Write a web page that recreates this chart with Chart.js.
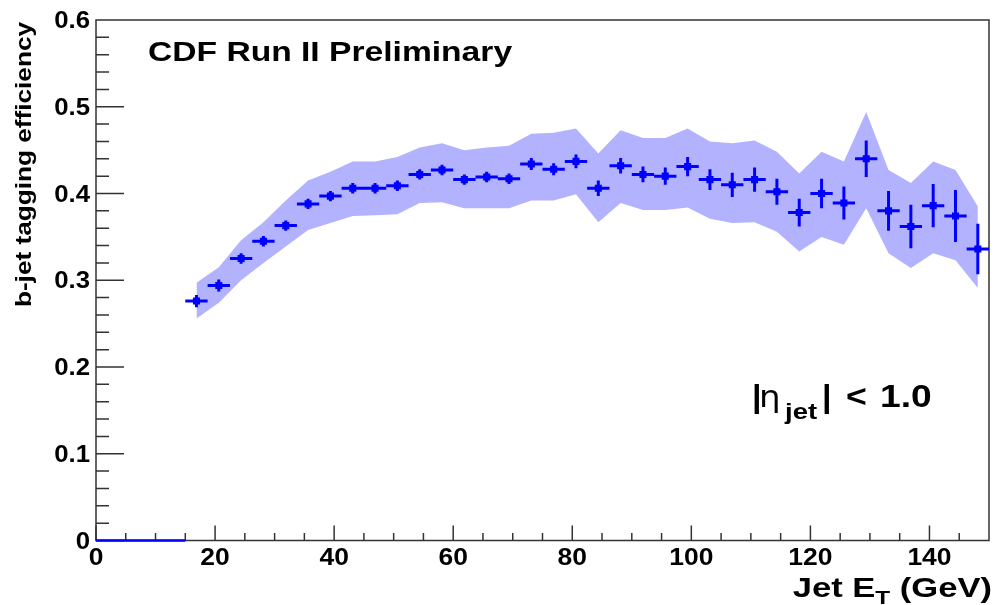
<!DOCTYPE html>
<html lang="en">
<head>
<meta charset="UTF-8">
<title>b-jet tagging efficiency vs Jet ET</title>
<script src="https://cdn.jsdelivr.net/npm/chart.js"></script>
<style>
    body { margin: 0; background: #fff; }
    #wrap { width: 994px; height: 605px; }
</style>
</head>
<body>
<div id="wrap"><canvas id="eff" width="994" height="605"></canvas></div>
<script>
// bin centres in GeV (bins are 3.75 GeV wide)
const etCenters = [16.875, 20.625, 24.375, 28.125, 31.875, 35.625, 39.375, 43.125, 46.875, 50.625,
                   54.375, 58.125, 61.875, 65.625, 69.375, 73.125, 76.875, 80.625, 84.375, 88.125,
                   91.875, 95.625, 99.375, 103.125, 106.875, 110.625, 114.375, 118.125, 121.875, 125.625,
                   129.375, 133.125, 136.875, 140.625, 144.375, 148.125];
const binHalf = 1.875;
const effValues = [0.276, 0.294, 0.325, 0.345, 0.363, 0.388, 0.397, 0.406, 0.406, 0.409,
                   0.422, 0.427, 0.416, 0.419, 0.417, 0.434, 0.428, 0.437, 0.406, 0.432,
                   0.422, 0.420, 0.431, 0.416, 0.410, 0.416, 0.402, 0.378, 0.400, 0.389,
                   0.440, 0.380, 0.362, 0.386, 0.374, 0.336];
const statErr = [0.007, 0.007, 0.006, 0.006, 0.006, 0.006, 0.006, 0.006, 0.006, 0.006,
                 0.006, 0.006, 0.006, 0.006, 0.006, 0.007, 0.007, 0.008, 0.009, 0.009,
                 0.009, 0.010, 0.011, 0.012, 0.014, 0.014, 0.015, 0.016, 0.017, 0.019,
                 0.021, 0.023, 0.025, 0.025, 0.030, 0.029];
// systematic band
const systHi = [0.297, 0.315, 0.346, 0.367, 0.392, 0.415, 0.425, 0.437, 0.437, 0.442,
                0.453, 0.458, 0.450, 0.453, 0.455, 0.469, 0.470, 0.475, 0.446, 0.473,
                0.464, 0.464, 0.475, 0.460, 0.458, 0.461, 0.448, 0.423, 0.448, 0.437,
                0.494, 0.427, 0.412, 0.437, 0.427, 0.385];
const systLo = [0.256, 0.274, 0.300, 0.320, 0.339, 0.358, 0.366, 0.374, 0.375, 0.376,
                0.389, 0.390, 0.383, 0.383, 0.383, 0.392, 0.392, 0.399, 0.367, 0.389,
                0.381, 0.381, 0.384, 0.371, 0.366, 0.367, 0.356, 0.333, 0.350, 0.341,
                0.383, 0.331, 0.314, 0.331, 0.323, 0.291];
// empty bins below 15 GeV
const emptyEt = [0, 15];
const emptyEff = [0, 0];

const xTicks = [0, 20, 40, 60, 80, 100, 120, 140];
const yTicks = [0, 0.1, 0.2, 0.3, 0.4, 0.5, 0.6];

const FONT = '"Liberation Sans", Arial, sans-serif';
const BLUE = '#0000ff';

function pts(xs, ys) {
    return xs.map((x, i) => ({ x: x, y: ys[i] }));
}

// draw text squeezed/stretched horizontally, like the ROOT output
function stretchText(ctx, text, x, y, font, sx, align) {
    ctx.save();
    ctx.font = font;
    ctx.textBaseline = 'alphabetic';
    ctx.textAlign = 'left';
    const w = ctx.measureText(text).width * sx;
    let left = x;
    if (align === 'right') left = x - w;
    else if (align === 'center') left = x - w / 2;
    ctx.translate(left, y);
    ctx.scale(sx, 1);
    ctx.fillText(text, 0, 0);
    ctx.restore();
    return w;
}

const rootStyle = {
    id: 'rootStyle',
    beforeDatasetsDraw(chart) {
        const ctx = chart.ctx, a = chart.chartArea;
        const xs = chart.scales.x, ys = chart.scales.y;
        ctx.save();
        ctx.strokeStyle = '#333';
        ctx.lineWidth = 1.5;
        ctx.strokeRect(a.left, a.top, a.right - a.left, a.bottom - a.top);
        ctx.beginPath();
        // x ticks: major every 20, minor every 5
        for (let k = 0; k < 30; k++) {
            const v = k * 5;
            const px = xs.getPixelForValue(v);
            const len = (v % 20 === 0) ? 15 : 7.5;
            ctx.moveTo(px, a.bottom);
            ctx.lineTo(px, a.bottom - len);
        }
        // y ticks: major every 0.1, minor every 0.02
        for (let k = 0; k < 30; k++) {
            const py = ys.getPixelForValue(k * 0.02);
            const len = (k % 5 === 0) ? 28 : 13;
            ctx.moveTo(a.left, py);
            ctx.lineTo(a.left + len, py);
        }
        ctx.stroke();
        ctx.restore();
    },
    afterDatasetsDraw(chart) {
        const ctx = chart.ctx;
        const xs = chart.scales.x, ys = chart.scales.y;
        ctx.save();
        ctx.strokeStyle = BLUE;
        ctx.lineWidth = 3;
        ctx.beginPath();
        etCenters.forEach((et, i) => {
            const px = xs.getPixelForValue(et);
            const py = ys.getPixelForValue(effValues[i]);
            ctx.moveTo(xs.getPixelForValue(et - binHalf), py);
            ctx.lineTo(xs.getPixelForValue(et + binHalf), py);
            ctx.moveTo(px, ys.getPixelForValue(effValues[i] - statErr[i]));
            ctx.lineTo(px, ys.getPixelForValue(effValues[i] + statErr[i]));
        });
        ctx.stroke();
        ctx.restore();
    },
    afterDraw(chart) {
        const ctx = chart.ctx;
        const xs = chart.scales.x, ys = chart.scales.y;
        ctx.save();
        ctx.fillStyle = '#000';
        // tick labels
        yTicks.forEach(v => {
            const t = v === 0 ? '0' : v.toFixed(1);
            stretchText(ctx, t, 90, ys.getPixelForValue(v) + 8, 'bold 23px ' + FONT, 1.12, 'right');
        });
        xTicks.forEach(v => {
            stretchText(ctx, String(v), xs.getPixelForValue(v), 565, 'bold 23px ' + FONT, 1.15, 'center');
        });

        // x axis title: Jet E_T (GeV), right aligned
        const big = 'bold 27px ' + FONT, sub = 'bold 19px ' + FONT, sx = 1.28;
        ctx.font = big;
        const w1 = ctx.measureText('Jet E').width * sx;
        const w3 = ctx.measureText(' (GeV)').width * sx;
        ctx.font = sub;
        const w2 = ctx.measureText('T').width * sx;
        let x0 = 992 - (w1 + w2 + w3);
        x0 += stretchText(ctx, 'Jet E', x0, 597, big, sx, 'left');
        x0 += stretchText(ctx, 'T', x0, 604, sub, sx, 'left');
        stretchText(ctx, ' (GeV)', x0, 597, big, sx, 'left');

        // y axis title, rotated
        ctx.save();
        ctx.translate(31, 22);
        ctx.rotate(-Math.PI / 2);
        stretchText(ctx, 'b-jet tagging efficiency', 0, 0, 'bold 22px ' + FONT, 1.19, 'right');
        ctx.restore();

        // labels inside the frame
        stretchText(ctx, 'CDF Run II Preliminary', 148, 61, 'bold 28px ' + FONT, 1.2, 'left');
        const lab = 'bold 31px ' + FONT;
        stretchText(ctx, '|', 752, 407, lab, 1.1, 'left');
        stretchText(ctx, '\u03b7', 759, 407, 'normal 31px "DejaVu Sans", ' + FONT, 1.1, 'left');
        stretchText(ctx, 'jet', 785, 419, 'bold 22px ' + FONT, 1.25, 'left');
        stretchText(ctx, '|', 822, 407, lab, 1.1, 'left');
        stretchText(ctx, '<', 846, 407, lab, 1.15, 'left');
        stretchText(ctx, '1.0', 880, 407, lab, 1.2, 'left');
        ctx.restore();
    }
};

const hidden = {
    ticks: { display: false },
    grid: { display: false },
    border: { display: false }
};

new Chart(document.getElementById('eff').getContext('2d'), {
    type: 'scatter',
    data: {
        datasets: [
            {
                label: 'syst low',
                data: pts(etCenters, systLo),
                showLine: true,
                tension: 0,
                borderWidth: 0,
                pointRadius: 0,
                fill: false,
                order: 2
            },
            {
                label: 'syst high',
                data: pts(etCenters, systHi),
                showLine: true,
                tension: 0,
                borderWidth: 0,
                pointRadius: 0,
                backgroundColor: 'rgb(178, 178, 255)',
                fill: '-1',
                order: 2
            },
            {
                label: 'b-tag efficiency',
                data: pts(etCenters, effValues),
                pointStyle: 'rect',
                pointRadius: 5,
                borderWidth: 0,
                backgroundColor: BLUE,
                order: 0
            },
            {
                label: 'empty bins',
                data: pts(emptyEt, emptyEff),
                showLine: true,
                borderColor: BLUE,
                borderWidth: 2.5,
                pointRadius: 0,
                clip: 4,
                order: 0
            }
        ]
    },
    options: {
        responsive: false,
        animation: false,
        layout: { padding: { left: 0, top: 20, right: 3, bottom: 0 } },
        plugins: {
            legend: { display: false },
            tooltip: { enabled: false }
        },
        scales: {
            x: Object.assign({ type: 'linear', min: 0, max: 150,
                afterFit(s) { s.height = 64.5; } }, hidden),
            y: Object.assign({ type: 'linear', min: 0, max: 0.6,
                afterFit(s) { s.width = 96; } }, hidden)
        }
    },
    plugins: [rootStyle]
});
</script>
</body>
</html>
